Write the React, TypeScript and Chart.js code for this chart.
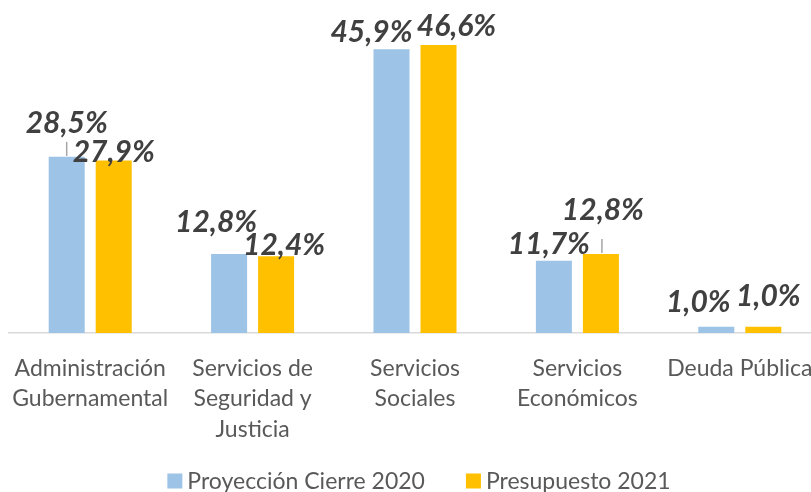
import React, { useEffect, useRef } from "react";
import { Chart, registerables } from "chart.js";

Chart.register(...registerables);

const categories: (string | string[])[] = [
  ["Administración", "Gubernamental"],
  ["Servicios de", "Seguridad y", "Justicia"],
  ["Servicios", "Sociales"],
  ["Servicios", "Económicos"],
  "Deuda Pública",
];
const seriesNames = ["Proyección Cierre 2020", "Presupuesto 2021"];
const proyeccion2020 = [28.5, 12.8, 45.9, 11.7, 1.0];
const presupuesto2021 = [27.9, 12.4, 46.6, 12.8, 1.0];

const COLORS = ["#9DC3E6", "#FFC000"];
const LABEL_FONT = "italic bold 30px Lato";
// label offsets (dx, dy) relative to bar center / bar top, per dataset
const labelOffsets = [
  [[0, -35], [-13, -33], [-20, -18], [-5, -18], [-18, -26]],
  [[0, -10], [8, -12], [18, -20], [2, -45], [5, -32]],
];
const leaders: [number, number][] = [[0, 0], [1, 3]];

const fmt = (v: number) => v.toFixed(1).replace(".", ",") + "%";

const labelPlugin = {
  id: "customLabels",
  afterDraw(chart: any) {
    const ctx = chart.ctx;
    ctx.save();
    // leader lines
    ctx.strokeStyle = "#A6A6A6";
    ctx.lineWidth = 1.5;
    leaders.forEach(([d, i]) => {
      const el = chart.getDatasetMeta(d).data[i];
      ctx.beginPath();
      ctx.moveTo(el.x + (d === 1 ? 1 : 0), el.y - 1);
      ctx.lineTo(el.x + (d === 1 ? 1 : 0), el.y - 15);
      ctx.stroke();
    });
    ctx.font = LABEL_FONT;
    ctx.fillStyle = "#404040";
    ctx.textAlign = "center";
    ctx.textBaseline = "alphabetic";
    chart.data.datasets.forEach((ds: any, d: number) => {
      chart.getDatasetMeta(d).data.forEach((el: any, i: number) => {
        const [dx, dy] = labelOffsets[d][i];
        ctx.fillText(fmt(ds.data[i]), el.x + dx, el.y + dy + 11);
      });
    });
    // legend
    ctx.font = "23px Lato";
    ctx.textBaseline = "middle";
    ctx.textAlign = "left";
    const sq = 15, gapIn = 5, gapOut = 41;
    const widths = chart.data.datasets.map((ds: any) => ctx.measureText(ds.label).width);
    const total = sq * 2 + gapIn * 2 + gapOut + widths[0] + widths[1];
    let x = 419 - total / 2;
    const yc = 481;
    chart.data.datasets.forEach((ds: any, d: number) => {
      ctx.fillStyle = ds.backgroundColor;
      ctx.fillRect(x, yc - sq / 2, sq, sq);
      x += sq + gapIn;
      ctx.fillStyle = "#595959";
      ctx.fillText(ds.label, x, yc + 1);
      x += widths[d] + gapOut;
    });
    ctx.restore();
  },
};

export default function App() {
  const ref = useRef<HTMLCanvasElement>(null);
  useEffect(() => {
    const chart = new Chart(ref.current!, {
      type: "bar",
      data: {
        labels: categories,
        datasets: [
          { label: seriesNames[0], data: proyeccion2020, backgroundColor: COLORS[0] },
          { label: seriesNames[1], data: presupuesto2021, backgroundColor: COLORS[1] },
        ],
      },
      options: {
        responsive: false,
        animation: false,
        layout: { padding: { left: 9, right: 9, top: 24, bottom: 0 } },
        datasets: { bar: { categoryPercentage: 0.579, barPercentage: 0.766 } },
        plugins: { legend: { display: false }, tooltip: { enabled: false } },
        scales: {
          y: { display: false, min: 0, max: 50 },
          x: {
            grid: { display: false, drawTicks: false },
            border: { display: true, color: "#D9D9D9", width: 1.5 },
            ticks: {
              color: "#595959",
              font: { family: "Lato", size: 23, lineHeight: "30.5px" },
              padding: 20,
              maxRotation: 0,
              autoSkip: false,
            },
            afterFit: (scale: any) => {
              scale.height = 159;
              scale.paddingLeft = 0;
              scale.paddingRight = 0;
            },
          },
        },
      },
      plugins: [labelPlugin],
    });
    return () => chart.destroy();
  }, []);
  return (
    <div style={{ position: "absolute", left: 0, top: 0, width: 811, height: 492, overflow: "hidden", background: "#fff" }}>
      <canvas ref={ref} width={830} height={492} style={{ display: "block" }} />
    </div>
  );
}
